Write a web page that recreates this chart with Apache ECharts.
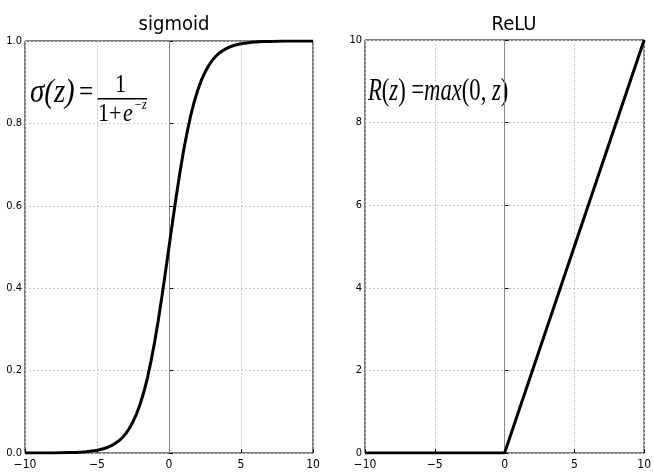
<!DOCTYPE html>
<html><head><meta charset="utf-8">
<script src="https://cdn.jsdelivr.net/npm/echarts@6/dist/echarts.min.js"></script>
<style>html,body{margin:0;padding:0;background:#fff}#c{width:654px;height:476px}</style>
</head><body><div id="c"></div>
<script>
const titles = ['sigmoid', 'ReLU'];
const xTicks = [-10, -5, 0, 5, 10];
const sigmoidZ = [-10,-9,-8,-7,-6.5,-6,-5.75,-5.5,-5.25,-5,-4.75,-4.5,-4.25,-4,-3.75,-3.5,-3.25,-3,-2.75,-2.5,-2.25,-2,-1.75,-1.5,-1.25,-1,-0.75,-0.5,-0.25,0,0.25,0.5,0.75,1,1.25,1.5,1.75,2,2.25,2.5,2.75,3,3.25,3.5,3.75,4,4.25,4.5,4.75,5,5.25,5.5,5.75,6,6.5,7,8,9,10];
const sigmoidY = [0.000,0.000,0.000,0.001,0.0015,0.0025,0.0032,0.0041,0.0052,0.0067,0.0086,0.011,0.014,0.018,0.023,0.029,0.037,0.047,0.060,0.076,0.095,0.119,0.148,0.182,0.223,0.269,0.321,0.378,0.438,0.500,0.562,0.622,0.679,0.731,0.777,0.818,0.852,0.881,0.905,0.924,0.940,0.953,0.963,0.971,0.977,0.982,0.986,0.989,0.9914,0.9933,0.9948,0.9959,0.9968,0.9975,0.9985,0.999,1.000,1.000,1.000];
const reluZ = [-10, -5, 0, 5, 10];
const reluY = [0, 0, 0, 5, 10];

const FONT = '"DejaVu Sans Condensed", "DejaVu Sans", sans-serif';
const SERIF = '"Liberation Serif", serif';
const chart = echarts.init(document.getElementById('c'), null, {renderer: 'canvas'});
const minus = v => String(v).replace('-', '\u2212');
function xAxis(i) {
  return {gridIndex: i, type: 'value', min: -10, max: 10, interval: 5,
    axisLine: {show: false}, axisTick: {show: true, inside: true, length: 4, lineStyle: {color: '#000'}},
    axisLabel: {color: '#000', fontFamily: FONT, fontSize: 12, margin: 6, formatter: minus},
    splitLine: {show: true, lineStyle: {color: '#c8c8c8', type: [2, 2], width: 1}}};
}
function yAxis(i, max, interval, fmt) {
  return {gridIndex: i, type: 'value', min: 0, max: max, interval: interval,
    axisLine: {show: false}, axisTick: {show: true, inside: true, length: 4, lineStyle: {color: '#000'}},
    axisLabel: {color: '#000', fontFamily: FONT, fontSize: 11, margin: 3, formatter: fmt},
    splitLine: {show: true, lineStyle: {color: '#c8c8c8', type: [2, 2], width: 1}}};
}
const zeroLine = {silent: true, symbol: 'none', label: {show: false},
  lineStyle: {color: '#888', type: 'solid', width: 1}, data: [{xAxis: 0}]};
function mtext(x, y, text, size, italic, sx) {
  return {type: 'text', x: x, y: y, scaleX: sx, scaleY: 1,
    style: {text: text, font: (italic ? 'italic ' : '') + size + 'px ' + SERIF, fill: '#000', textVerticalAlign: 'top'}};
}

chart.setOption({
  animation: false,
  grid: [
    {left: 25, right: 341, top: 41, bottom: 23, show: true, borderColor: '#000', borderWidth: 1, backgroundColor: 'transparent'},
    {left: 365, right: 1, top: 40, bottom: 23, show: true, borderColor: '#000', borderWidth: 1, backgroundColor: 'transparent'}
  ],
  title: [
    {text: titles[0], left: 169, top: 10, textAlign: 'center', textStyle: {fontFamily: FONT, fontWeight: 'normal', fontSize: 20, color: '#000'}},
    {text: titles[1], left: 509, top: 10, textAlign: 'center', textStyle: {fontFamily: FONT, fontWeight: 'normal', fontSize: 20, color: '#000'}}
  ],
  xAxis: [xAxis(0), xAxis(1)],
  yAxis: [
    yAxis(0, 1, 0.2, v => v.toFixed(1)),
    yAxis(1, 10, 2, v => String(v))
  ],
  series: [
    {type: 'line', xAxisIndex: 0, yAxisIndex: 0, data: sigmoidZ.map((z, i) => [z, sigmoidY[i]]),
      showSymbol: false, lineStyle: {color: '#000', width: 3}, markLine: zeroLine, z: 5},
    {type: 'line', xAxisIndex: 1, yAxisIndex: 1, data: reluZ.map((z, i) => [z, reluY[i]]),
      showSymbol: false, lineStyle: {color: '#000', width: 3}, markLine: zeroLine, z: 5}
  ],
  graphic: [
    mtext(30, 76, 'σ(z)', 34, true, 0.85),
    mtext(79, 78, '=', 30, false, 0.85),
    mtext(115, 72, '1', 26, false, 0.85),
    {type: 'rect', shape: {x: 97, y: 98, width: 50, height: 1.5}, style: {fill: '#000'}},
    mtext(98, 101, '1+', 26, false, 0.85),
    mtext(123, 101, 'e', 26, true, 0.85),
    mtext(134, 98, '−z', 14, true, 0.85),
    {type: 'text', x: 368, y: 76, scaleX: 0.73, scaleY: 1,
      style: {text: '{i|R}{u|(}{i|z}{u|) =}{i|max}{u|(0, }{i|z}{u|)}', textVerticalAlign: 'top', fill: '#000',
        rich: {i: {font: 'italic 31px ' + SERIF, fill: '#000'}, u: {font: '31px ' + SERIF, fill: '#000'}}}}
  ]
});
</script></body></html>
